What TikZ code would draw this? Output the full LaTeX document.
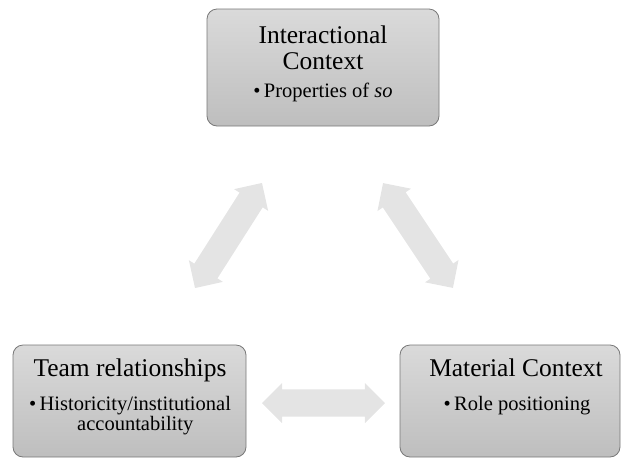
\documentclass[tikz,border=0pt]{standalone}
\usepackage{fontspec}
\setmainfont{Liberation Serif}
\usetikzlibrary{shapes.arrows}
\definecolor{boxtop}{RGB}{218,218,218}
\definecolor{boxbot}{RGB}{190,190,190}
\definecolor{boxline}{RGB}{120,120,120}
\definecolor{arrfill}{RGB}{228,228,228}
\tikzset{
  ctxbox/.style={draw=boxline, line width=0.8pt, rounded corners=10pt,
    top color=boxtop, bottom color=boxbot, inner sep=0pt},
  titletext/.style={anchor=base, inner sep=0pt, font=\fontsize{25.5}{26}\selectfont},
  bullettext/.style={anchor=base, inner sep=0pt, font=\fontsize{20.5}{20}\selectfont},
  dblarrow/.style={double arrow, fill=arrfill, draw=none, inner sep=0pt,
    text height=13.5pt, text depth=13.5pt, text width=0pt,
    minimum width=40pt, double arrow head extend=6.5pt}
}
\begin{document}
\begin{tikzpicture}[x=1pt,y=-1pt]
\useasboundingbox (0,0) rectangle (622,459);
% boxes
\node[ctxbox, minimum width=232pt, minimum height=117pt] (top) at (323,67.5) {};
\node[ctxbox, minimum width=233pt, minimum height=112pt] (left) at (129.5,401) {};
\node[ctxbox, minimum width=220pt, minimum height=112pt] (right) at (510,401) {};
% top texts
\node[titletext] (t1) at (323,43) {Interactional};
\node[titletext] (t2) at (323,69) {Context};
\node[bullettext] (t3) at (323,97) {•\,Properties of \textit{so}};
% left texts
\node[titletext] (l1) at (130,376) {Team relationships};
\node[bullettext] (l2) at (130,410) {•\,\begin{tabular}[t]{@{}c@{}}Historicity/institutional\\accountability\end{tabular}};
% right texts
\node[titletext] (r1) at (516,376) {Material Context};
\node[bullettext] (r2) at (517,410) {•\,Role positioning};
% arrows
\node[dblarrow, minimum height=124.6pt, rotate=57.5] (aleft) at (228.5,235.5) {};
\node[dblarrow, minimum height=126pt, rotate=-56.3] (aright) at (418,235.5) {};
\node[dblarrow, minimum height=123pt] (abottom) at (323.5,403) {};
\end{tikzpicture}
\end{document}
